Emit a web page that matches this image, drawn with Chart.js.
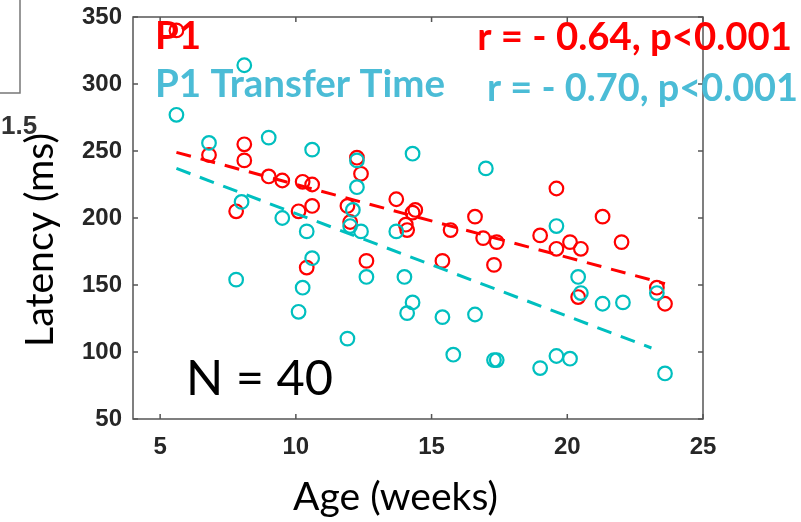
<!DOCTYPE html>
<html>
<head>
<meta charset="utf-8">
<script src="https://cdn.jsdelivr.net/npm/chart.js@4.4.1/dist/chart.umd.min.js"></script>
<style>
  html, body { margin: 0; padding: 0; background: #fff; }
  #wrap { width: 801px; height: 522px; }
</style>
</head>
<body>
<div id="wrap"><canvas id="latency-canvas" width="801" height="522"></canvas></div>
<script>
/* global Chart */
// P1 latency (red) and P1 transfer time (cyan) vs age
const AGE_P1 = [5.6, 6.8, 7.8, 8.1, 8.1, 9.0, 9.5, 10.1, 10.25, 10.4, 10.6, 10.6, 11.9, 12.0, 12.25, 12.4, 12.6,
  13.7, 14.05, 14.1, 14.3, 14.4, 15.4, 15.7, 16.6, 16.9, 17.3, 17.4, 19.0, 19.6, 19.6, 20.1, 20.4, 20.5, 21.3, 22.0, 23.3, 23.6];
const LAT_P1 = [340, 247, 205, 255, 243, 231, 228, 205, 227, 163, 225, 209, 209, 197, 245, 233, 168,
  214, 195, 191, 204, 206, 168, 191, 201, 185, 165, 182, 187, 222, 177, 182, 141, 177, 201, 182, 148, 136];

const AGE_TT = [5.6, 6.8, 7.8, 8.0, 8.1, 9.0, 9.5, 10.1, 10.25, 10.4, 10.6, 10.6, 11.9, 12.0, 12.1, 12.25, 12.25, 12.4, 12.6, 13.7,
  14.0, 14.1, 14.3, 14.3, 15.4, 15.8, 16.6, 17.0, 17.3, 17.4, 19.0, 19.6, 19.6, 20.1, 20.4, 20.5, 21.3, 22.05, 23.3, 23.6];
const LAT_TT = [277, 256, 154, 212, 314, 260, 200, 130, 148, 190, 170, 251, 110, 194, 206, 243, 223, 190, 156, 190,
  156, 129, 137, 248, 126, 98, 128, 237, 94, 94, 88, 194, 97, 95, 156, 144, 136, 137, 144, 84];

// regression lines (dashed)
const FIT_AGE_P1 = [5.6, 23.6];
const FIT_P1 = [249, 151];
const FIT_AGE_TT = [5.6, 23.1];
const FIT_TT = [237, 103];

const X_TICKS = [5, 10, 15, 20, 25];
const Y_TICKS = [50, 100, 150, 200, 250, 300, 350];

const RED = '#ff0000';
const CYAN = '#00bfbf';
const CYAN_TXT = '#4bbcd6';
const AXIS = '#555555';
const TICK_FONT = { family: '"Liberation Sans", Arial, sans-serif', size: 24, weight: 'bold' };
const TXT_FAMILY = 'Lato, "Open Sans", sans-serif';

const pts = (xs, ys) => xs.map((x, i) => ({ x, y: ys[i] }));

// sets a font size so the text fills the given width, returns that size
function fitFont(ctx, text, width, weight) {
  ctx.font = `${weight} 100px ${TXT_FAMILY}`;
  const size = 100 * width / ctx.measureText(text).width;
  ctx.font = `${weight} ${size.toFixed(2)}px ${TXT_FAMILY}`;
  return size;
}

function drawText(ctx, text, x, y, width, weight, color, align) {
  const size = fitFont(ctx, text, width, weight);
  ctx.fillStyle = color;
  ctx.textAlign = align || 'left';
  ctx.textBaseline = 'alphabetic';
  ctx.fillText(text, x, y);
  return size;
}

// no extra room for half tick labels: the plot box is placed by layout padding
function noLabelPadding(s) {
  s.paddingTop = 0; s.paddingBottom = 0;
  s.paddingLeft = 0; s.paddingRight = 0;
}

// box round the plot with inward ticks on all four sides
const boxPlugin = {
  id: 'box',
  beforeDatasetsDraw(chart) {
    const { ctx, chartArea: a, scales: { x, y } } = chart;
    ctx.save();
    ctx.strokeStyle = AXIS;
    ctx.lineWidth = 1.5;
    ctx.strokeRect(a.left, a.top, a.right - a.left, a.bottom - a.top);
    ctx.beginPath();
    X_TICKS.forEach(v => {
      const px = x.getPixelForValue(v);
      ctx.moveTo(px, a.bottom); ctx.lineTo(px, a.bottom - 5);
      ctx.moveTo(px, a.top); ctx.lineTo(px, a.top + 5);
    });
    Y_TICKS.forEach(v => {
      const py = y.getPixelForValue(v);
      ctx.moveTo(a.left, py); ctx.lineTo(a.left + 5, py);
      ctx.moveTo(a.right, py); ctx.lineTo(a.right - 5, py);
    });
    ctx.stroke();
    ctx.restore();
  }
};

const textPlugin = {
  id: 'textos',
  afterDraw(chart) {
    const ctx = chart.ctx;
    ctx.save();
    // piece of the neighbouring panel, cut off at the left edge
    ctx.strokeStyle = '#777';
    ctx.lineWidth = 1.5;
    ctx.beginPath();
    ctx.moveTo(20, 0); ctx.lineTo(20, 93); ctx.lineTo(0, 93);
    ctx.stroke();
    ctx.font = 'bold 26px "Liberation Sans", Arial, sans-serif';
    ctx.fillStyle = '#333';
    ctx.textAlign = 'left';
    ctx.fillText('1.5', 1, 134);

    const size = drawText(ctx, 'P1 Transfer Time', 155, 97, 290, 'bold', CYAN_TXT);
    ctx.font = `bold ${size.toFixed(2)}px ${TXT_FAMILY}`;
    ctx.fillStyle = RED;
    ctx.fillText('P1', 155, 49);
    drawText(ctx, 'r = - 0.64, p<0.001', 792, 50, 315, 'bold', RED, 'right');
    drawText(ctx, 'r = - 0.70, p<0.001', 487, 101, 311, 'bold', CYAN_TXT);
    drawText(ctx, 'N = 40', 186, 395, 147, 'normal', '#000');
    drawText(ctx, 'Age (weeks)', 293, 510, 205, 'normal', '#000');

    ctx.translate(53, 240);
    ctx.rotate(-Math.PI / 2);
    drawText(ctx, 'Latency (ms)', 0, 0, 214, 'normal', '#000', 'center');
    ctx.restore();
  }
};

const canvas = document.getElementById('latency-canvas');
new Chart(canvas, {
  type: 'scatter',
  data: {
    datasets: [
      { label: 'P1 Transfer Time fit', type: 'line', data: pts(FIT_AGE_TT, FIT_TT), borderColor: CYAN, borderWidth: 3,
        borderDash: [15, 10], pointRadius: 0, fill: false, order: 1 },
      { label: 'P1 Transfer Time', data: pts(AGE_TT, LAT_TT), borderColor: CYAN, backgroundColor: 'transparent',
        borderWidth: 2.2, pointRadius: 6.8, clip: false, order: 2 },
      { label: 'P1 fit', type: 'line', data: pts(FIT_AGE_P1, FIT_P1), borderColor: RED, borderWidth: 3,
        borderDash: [15, 10], pointRadius: 0, fill: false, order: 3 },
      { label: 'P1', data: pts(AGE_P1, LAT_P1), borderColor: RED, backgroundColor: 'transparent',
        borderWidth: 2.2, pointRadius: 6.8, clip: false, order: 4 }
    ]
  },
  options: {
    responsive: false,
    animation: false,
    layout: { padding: { top: 17, right: 98, left: 0, bottom: 0 } },
    plugins: { legend: { display: false }, tooltip: { enabled: false } },
    scales: {
      x: {
        type: 'linear', min: 4, max: 25,
        grid: { display: false, drawTicks: false },
        border: { display: false },
        ticks: { font: TICK_FONT, color: '#262626', padding: 14 },
        afterBuildTicks: s => { s.ticks = X_TICKS.map(v => ({ value: v })); },
        afterFit: s => { s.height = 103; noLabelPadding(s); }
      },
      y: {
        type: 'linear', min: 50, max: 350,
        grid: { display: false, drawTicks: false },
        border: { display: false },
        ticks: { font: TICK_FONT, color: '#262626', padding: 11 },
        afterBuildTicks: s => { s.ticks = Y_TICKS.map(v => ({ value: v })); },
        afterFit: s => { s.width = 133; noLabelPadding(s); }
      }
    }
  },
  plugins: [boxPlugin, textPlugin]
});
</script>
</body>
</html>
